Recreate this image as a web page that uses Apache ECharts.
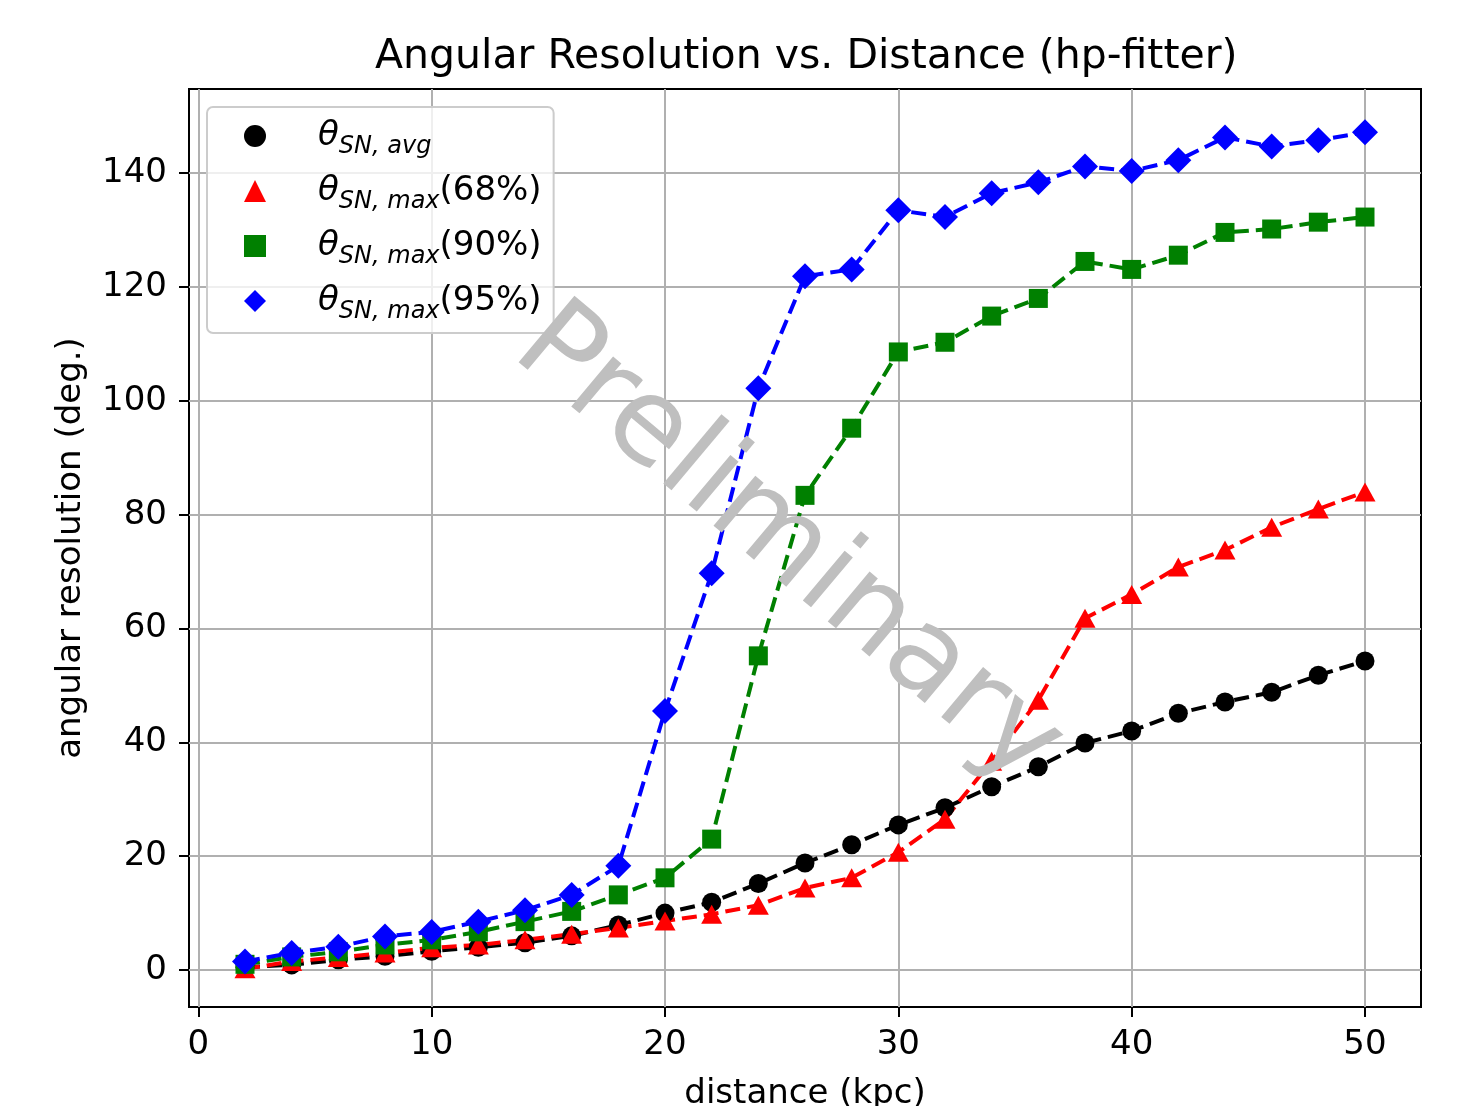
<!DOCTYPE html>
<html>
<head>
<meta charset="utf-8">
<script src="https://cdn.jsdelivr.net/npm/echarts@6/dist/echarts.min.js"></script>
<style>
  html, body { margin: 0; padding: 0; background: #fff; }
  #chart { width: 1484px; height: 1106px; }
</style>
</head>
<body>
<div id="chart"></div>
<script>
// 数据
var distances = [2, 4, 6, 8, 10, 12, 14, 16, 18, 20, 22, 24, 26, 28, 30, 32, 34, 36, 38, 40, 42, 44, 46, 48, 50];
var avgVals   = [0.5, 0.9, 1.8, 2.4, 3.3, 4.0, 4.8, 6.0, 7.9, 10.0, 11.9, 15.2, 18.8, 22.0, 25.5, 28.5, 32.2, 35.7, 39.9, 42.0, 45.1, 47.1, 48.8, 51.8, 54.3];
var max68Vals = [0.2, 1.5, 2.2, 3.0, 3.9, 4.4, 5.3, 6.3, 7.4, 8.6, 9.8, 11.4, 14.4, 16.2, 20.7, 26.5, 36.7, 47.4, 61.8, 66.0, 70.8, 73.8, 77.8, 81.0, 84.0];
var max90Vals = [1.0, 2.3, 3.2, 4.4, 5.3, 6.7, 8.5, 10.3, 13.2, 16.2, 23.0, 55.2, 83.4, 95.2, 108.6, 110.3, 114.9, 118.0, 124.5, 123.1, 125.6, 129.6, 130.2, 131.4, 132.3];
var max95Vals = [1.5, 3.0, 4.1, 5.9, 6.7, 8.5, 10.5, 13.2, 18.3, 45.5, 69.7, 102.2, 121.9, 123.1, 133.5, 132.3, 136.5, 138.4, 141.2, 140.4, 142.3, 146.3, 144.7, 145.8, 147.2];
var xTicks = [0, 10, 20, 30, 40, 50];
var yTicks = [0, 20, 40, 60, 80, 100, 120, 140];

var FONT = 'DejaVu Sans';

function pairs(vals) {
    return distances.map(function (d, i) { return [d, vals[i]]; });
}

// 图例文字（带下标）
var legendText = {
    'avg':   '{th|θ}{sub|SN, avg}',
    'max68': '{th|θ}{sub|SN, max}{n|(68%)}',
    'max90': '{th|θ}{sub|SN, max}{n|(90%)}',
    'max95': '{th|θ}{sub|SN, max}{n|(95%)}'
};

function makeSeries(name, vals, color, symbol, size) {
    return {
        name: name,
        type: 'line',
        data: pairs(vals),
        symbol: symbol,
        symbolSize: size,
        itemStyle: { color: color },
        lineStyle: { color: color, width: 4, type: [15, 7] },
        animation: false
    };
}

var myChart = echarts.init(document.getElementById('chart'));
var option = {
    backgroundColor: '#fff',
    title: {
        text: 'Angular Resolution vs. Distance (hp-fitter)',
        left: 370,
        top: 32,
        textStyle: { fontFamily: FONT, fontSize: 41, fontWeight: 'normal', color: '#000' }
    },
    grid: {
        left: 189, right: 63, top: 89, bottom: 99,
        outerBoundsMode: 'none',
        show: true, borderColor: '#000', borderWidth: 2, backgroundColor: 'transparent'
    },
    legend: {
        left: 207, top: 107,
        orient: 'vertical',
        padding: [12, 12, 9, 37],
        itemGap: 15,
        itemWidth: 22, itemHeight: 22,
        backgroundColor: 'rgba(255,255,255,0.8)',
        borderColor: '#cccccc', borderWidth: 2, borderRadius: 6,
        data: [
            { name: 'avg', icon: 'circle' },
            { name: 'max68', icon: 'triangle' },
            { name: 'max90', icon: 'rect' },
            { name: 'max95', icon: 'diamond' }
        ],
        formatter: function (name) { return legendText[name]; },
        textStyle: {
            rich: {
                th:  { fontFamily: FONT, fontSize: 34, fontStyle: 'italic', color: '#000', lineHeight: 46, verticalAlign: 'middle', padding: [0, 0, 0, 47] },
                sub: { fontFamily: FONT, fontSize: 24, fontStyle: 'italic', color: '#000', lineHeight: 18, verticalAlign: 'bottom' },
                n:   { fontFamily: FONT, fontSize: 34, color: '#000', lineHeight: 46, verticalAlign: 'middle' }
            }
        }
    },
    xAxis: {
        type: 'value',
        min: -0.4, max: 52.4,
        name: 'distance (kpc)',
        nameLocation: 'middle',
        nameGap: 70,
        nameTextStyle: { fontFamily: FONT, fontSize: 34, color: '#000' },
        axisLine: { show: false, onZero: false },
        axisTick: { show: true, length: 10, lineStyle: { color: '#000', width: 2 }, customValues: xTicks },
        axisLabel: { fontFamily: FONT, fontSize: 34, color: '#000', margin: 21, customValues: xTicks },
        splitLine: { show: true, lineStyle: { color: '#b0b0b0', width: 2 } }
    },
    yAxis: {
        type: 'value',
        min: -6.5, max: 154.8,
        name: 'angular resolution (deg.)',
        nameLocation: 'middle',
        nameGap: 101,
        nameTextStyle: { fontFamily: FONT, fontSize: 34, color: '#000' },
        axisLine: { show: false, onZero: false },
        axisTick: { show: true, length: 10, lineStyle: { color: '#000', width: 2 }, customValues: yTicks },
        axisLabel: { fontFamily: FONT, fontSize: 34, color: '#000', margin: 22, customValues: yTicks },
        splitLine: { show: true, lineStyle: { color: '#b0b0b0', width: 2 } }
    },
    series: [
        makeSeries('avg', avgVals, '#000000', 'circle', 19),
        makeSeries('max68', max68Vals, '#ff0000', 'triangle', [21, 19]),
        makeSeries('max90', max90Vals, '#008000', 'rect', 19),
        makeSeries('max95', max95Vals, '#0000ff', 'diamond', 26)
    ],
    graphic: [{
        type: 'text',
        x: 787, y: 547,
        rotation: -40 * Math.PI / 180,
        z: 100,
        style: {
            text: 'Preliminary',
            fontFamily: FONT,
            fontSize: 119,
            fill: '#bfbfbf',
            textAlign: 'center',
            textVerticalAlign: 'middle'
        }
    }],
    animation: false
};
myChart.setOption(option);
</script>
</body>
</html>
